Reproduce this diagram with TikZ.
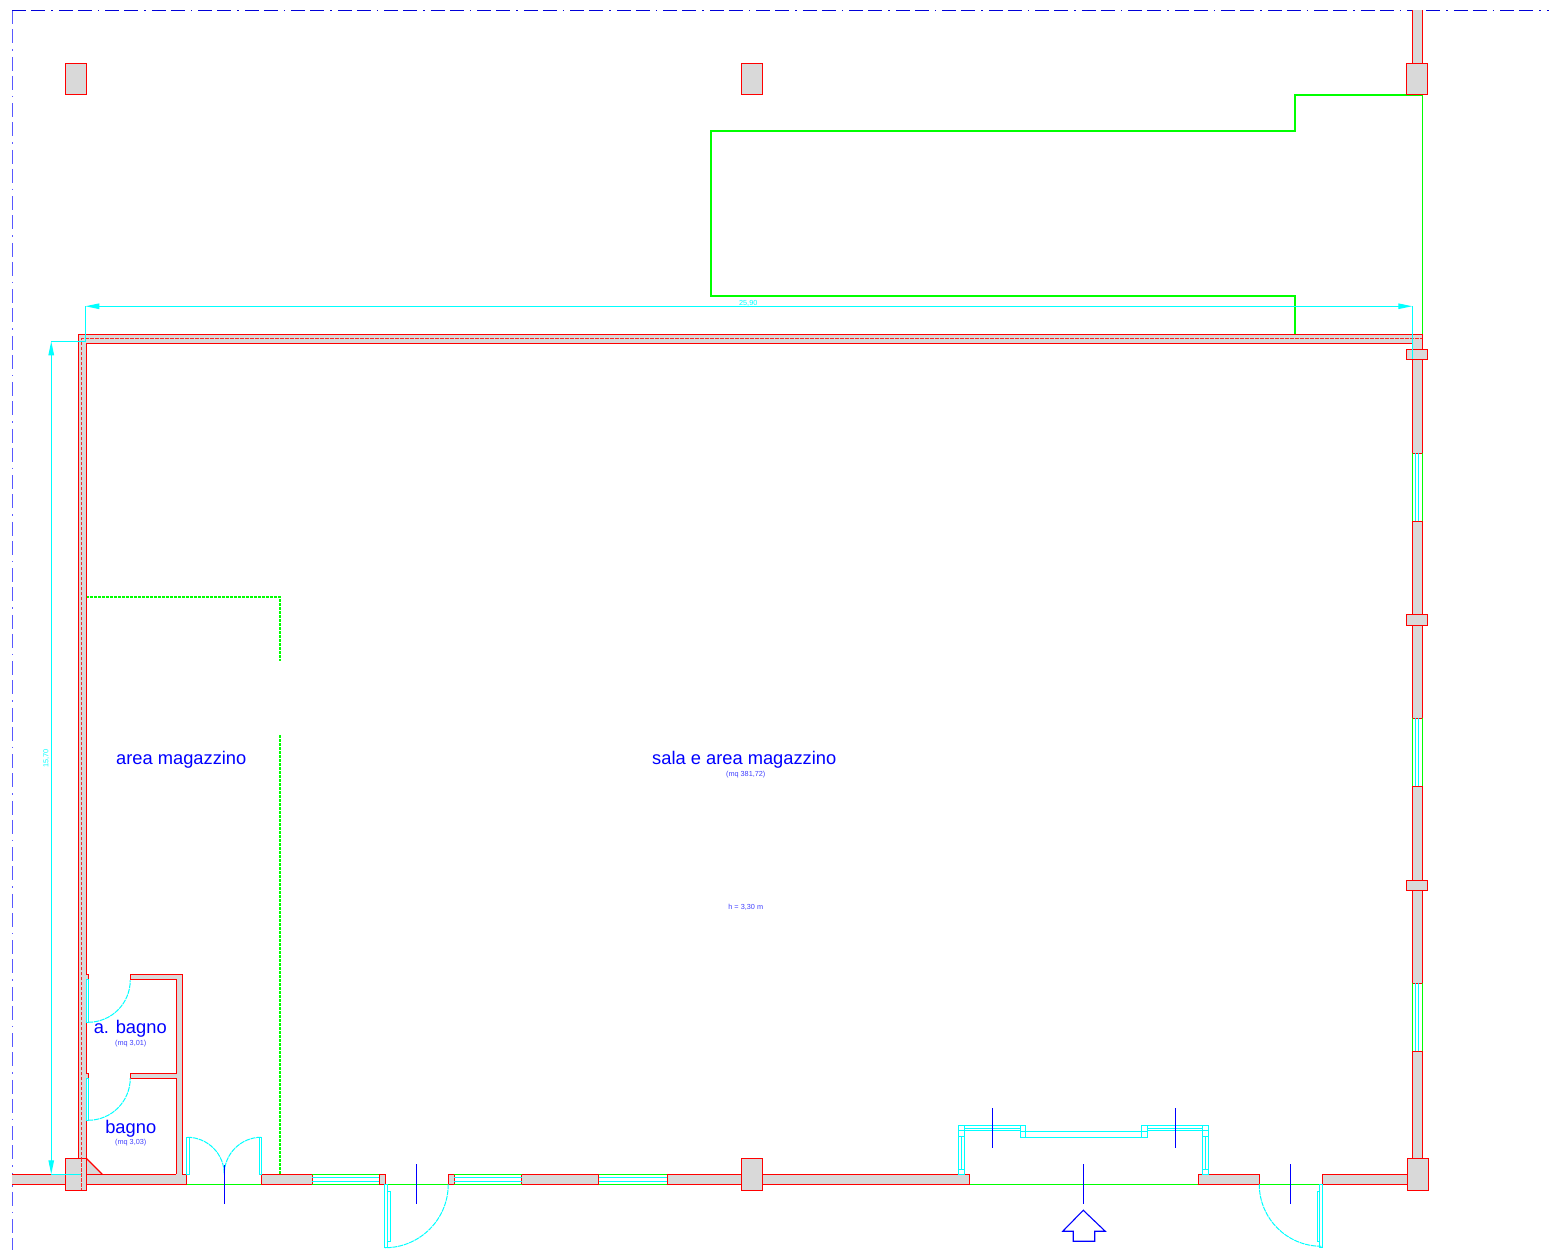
\documentclass[tikz,border=0pt]{standalone}
\usepackage{fontspec}
\setmainfont{Liberation Sans}
\usetikzlibrary{arrows.meta}
\definecolor{wallred}{RGB}{255,0,0}
\definecolor{wallfill}{RGB}{217,217,217}
\definecolor{cy}{RGB}{0,255,255}
\definecolor{gr}{RGB}{0,255,0}
\definecolor{bl}{RGB}{0,0,255}
\tikzset{
  wall/.style={draw=wallred,fill=wallfill,line width=1.3pt,line join=miter},
  redline/.style={draw=wallred,line width=1.3pt},
  redthin/.style={draw=wallred!85!white,line width=0.8pt,dash pattern=on 3.5pt off 1.5pt},
  glass/.style={draw=gr,line width=1.3pt},
  outline/.style={draw=gr,line width=1.3pt},
  pane/.style={draw=cy,line width=1.2pt},
  leaf/.style={draw=cy,line width=1.2pt},
  swing/.style={draw=cy,line width=1pt,dash pattern=on 5pt off 0.8pt},
  partition/.style={draw=gr,line width=1.2pt,dash pattern=on 3pt off 1pt},
  limit/.style={line width=1.3pt,dash pattern=on 14pt off 5pt on 14pt off 6pt on 1.5pt off 6pt},
  tick/.style={draw=bl,line width=1.4pt},
  dim/.style={draw=cy,line width=1.1pt},
  dimarrow/.style={dim,{Triangle[length=14pt,width=5.5pt,fill=cy]}-{Triangle[length=14pt,width=5.5pt,fill=cy]}},
  bigtext/.style={text=bl,font=\fontsize{18.3}{20}\selectfont,inner sep=0pt},
  smalltext/.style={text=bl!75!white,font=\fontsize{7.3}{8}\selectfont,inner sep=0pt},
  dimtext/.style={text=cy,font=\fontsize{7.3}{8}\selectfont,inner sep=0pt},
}
\begin{document}
\begin{tikzpicture}[x=1pt,y=-1pt]
\useasboundingbox (0,0) rectangle (1549,1250);
\begin{scope}[shift={(0.25,0.25)}]
% site limits
\draw[limit,draw=bl!65!white] (12,10) -- (12,1250);
\draw[limit,draw=bl!85!black] (12,10) -- (1549,10);
% green outline of upper volume
\draw[outline] (1294.7,334) -- (1294.7,295.7) -- (710.7,295.7) -- (710.7,130.7) -- (1294.7,130.7) -- (1294.7,94.7) -- (1422,94.7) -- (1422,334);
% partition
\draw[partition] (85.7,596.7) -- (279.7,596.7) -- (279.7,661);
\draw[partition] (279.7,735) -- (279.7,1174);
% upper wall stub and free columns
\draw[wall] (1412,10) -- (1412,63) -- (1422,63) -- (1422,10);
\foreach \x in {65,741,1406}
  \draw[wall] (\x,63) rectangle (\x+21,94);
% L-shaped perimeter wall
\draw[wall] (78,1158) -- (78,334) -- (1422,334) -- (1422,349) -- (1412,349) -- (1412,343) -- (86,343) -- (86,1158);
\draw[redthin] (81.5,1190) -- (81.5,338.5) -- (1422,338.5);
% right wall
\foreach \a/\b in {359/453,521/614,625/718,786/880,890/983,1051/1158}
  \draw[wall] (1412,\a) rectangle (1422,\b);
\foreach \a/\b in {349/359,614/625,880/890}
  \draw[wall] (1406,\a) rectangle (1427,\b);
% right windows
\foreach \a/\b in {453/521,718/786,983/1051} {
  \draw[pane] (1415,\a) -- (1415,\b);
  \draw[pane] (1418.5,\a) -- (1418.5,\b);
  \draw[glass] (1412,\a) -- (1412,\b);
  \draw[glass] (1422,\a) -- (1422,\b);
}
% WC partitions
\draw[wall] (86,974) -- (88,974) -- (88,979) -- (86,979);
\draw[wall] (86,1073) -- (88,1073) -- (88,1078) -- (86,1078);
\draw[wall] (130,974) -- (182,974) -- (182,1174) -- (176,1174) -- (176,1078) -- (130,1078) -- (130,1073) -- (176,1073) -- (176,979) -- (130,979) -- cycle;
% bottom wall
\fill[wallfill] (12,1174) rectangle (65,1184);
\draw[redline] (12,1174) -- (65,1174);
\draw[redline] (12,1184) -- (65,1184);
\fill[wallfill] (86,1158) -- (102,1174) -- (86,1174) -- cycle;
\draw[redline] (86,1158) -- (102,1174);
\fill[wallfill] (86,1174) rectangle (186.5,1184);
\draw[redline] (86,1174) -- (176,1174);
\draw[redline] (182,1174) -- (186.5,1174) -- (186.5,1184) -- (86,1184);
\foreach \a/\b in {261/312,379/385,448/454,521.5/598.5,667/741,762/969.5,1198/1259,1322/1407}
  \draw[wall] (\a,1174) rectangle (\b,1184);
% big columns
\draw[wall] (65,1158) rectangle (86,1190);
\draw[wall] (741,1158) rectangle (762,1190);
\draw[wall] (1407,1158) rectangle (1428.5,1190);
\draw[redthin] (81.5,1158) -- (81.5,1190);
% bottom windows
\foreach \a/\b in {312/379,454/521.5,598.5/667} {
  \draw[pane] (\a,1177.5) -- (\b,1177.5);
  \draw[pane] (\a,1181) -- (\b,1181);
  \draw[glass] (\a,1174) -- (\b,1174);
  \draw[glass] (\a,1184) -- (\b,1184);
}
% door thresholds
\foreach \a/\b in {186.5/261,385/448,969.5/1198,1259/1322}
  \draw[glass] (\a,1184) -- (\b,1184);
% WC doors
\draw[leaf] (86,979) rectangle (88,1022);
\draw[swing] (88,1022) arc[start angle=90,end angle=0,radius=42];
\draw[leaf] (86,1078) rectangle (88,1120);
\draw[swing] (88,1120) arc[start angle=90,end angle=0,radius=42];
% double door
\draw[leaf] (186.5,1137) rectangle (189,1174);
\draw[leaf] (259,1137) rectangle (261.5,1174);
\draw[swing] (187,1137) arc[start angle=-90,end angle=0,radius=37];
\draw[swing] (261,1137) arc[start angle=-90,end angle=-180,radius=37];
% single doors
\draw[leaf] (384.5,1184) rectangle (387,1247);
\draw[leaf] (387,1191) rectangle (390.5,1241);
\draw[swing] (448,1184) arc[start angle=0,end angle=90,radius=63.5];
\draw[leaf] (1319.5,1184) rectangle (1322,1247);
\draw[leaf] (1317,1191) rectangle (1319.5,1241);
\draw[swing] (1259,1184) arc[start angle=180,end angle=90,radius=62];
% bay window
\begin{scope}[leaf]
\draw (958,1125) rectangle (964,1174);
\draw (958,1130) -- (964,1130);
\draw (958,1136) -- (964,1136);
\draw (958,1169) -- (964,1169);
\draw (961,1136) -- (961,1169);
\draw (964,1125) rectangle (1020,1130);
\draw (964,1128) -- (1020,1128);
\draw (1020,1125) rectangle (1025.5,1137);
\draw (1020,1131) -- (1025.5,1131);
\draw (1025.5,1131) rectangle (1141.5,1137);
\draw (1141.5,1125) rectangle (1147,1137);
\draw (1141.5,1131) -- (1147,1131);
\draw (1147,1125) rectangle (1202.5,1130);
\draw (1147,1128) -- (1202.5,1128);
\draw (1202.5,1125) rectangle (1208.5,1174);
\draw (1202.5,1130) -- (1208.5,1130);
\draw (1202.5,1136) -- (1208.5,1136);
\draw (1202.5,1169) -- (1208.5,1169);
\draw (1205.5,1136) -- (1205.5,1169);
\end{scope}
% section ticks
\foreach \x/\a/\b in {224/1165/1204,416/1164/1204,992/1108/1148,1175/1108/1148,1083/1164/1204,1290/1164/1204}
  \draw[tick] (\x,\a) -- (\x,\b);
% entrance arrow
\draw[tick,line width=1.1pt] (1083,1210) -- (1062.5,1231) -- (1073,1231) -- (1073,1241) -- (1094.5,1241) -- (1094.5,1231) -- (1105,1231) -- cycle;
% dimensions
\coordinate (dl) at (85,306);
\coordinate (dr) at (1412,306);
\coordinate (vt) at (51,341);
\coordinate (vb) at (51,1174);
\draw[dim] (dl) -- (85,341) -- (vt);
\draw[dim] (dr) -- (1412,359);
\draw[dim] (vb) -- (81,1174);
\draw[dimarrow] (dl) -- (dr);
\draw[dimarrow] (vt) -- (vb);
\node[dimtext] (dimw) at (748,303.5) {25,90};
\node[dimtext,rotate=90] (dimh) at (46,758) {15,70};
% labels
\node[bigtext] (areamag) at (181,759.5) {area magazzino};
\node[bigtext] (sala) at (744,759.5) {sala e area magazzino};
\node[smalltext] (salaarea) at (745.5,774) {(mq 381,72)};
\node[smalltext] (altezza) at (745.5,907) {h = 3,30 m};
\node[bigtext] (abagno) at (130,1029) {a. bagno};
\node[smalltext] (abagnoarea) at (130.5,1043) {(mq 3,01)};
\node[bigtext] (bagno) at (130.5,1129) {bagno};
\node[smalltext] (bagnoarea) at (130.5,1142) {(mq 3,03)};
\end{scope}
\end{tikzpicture}
\end{document}
